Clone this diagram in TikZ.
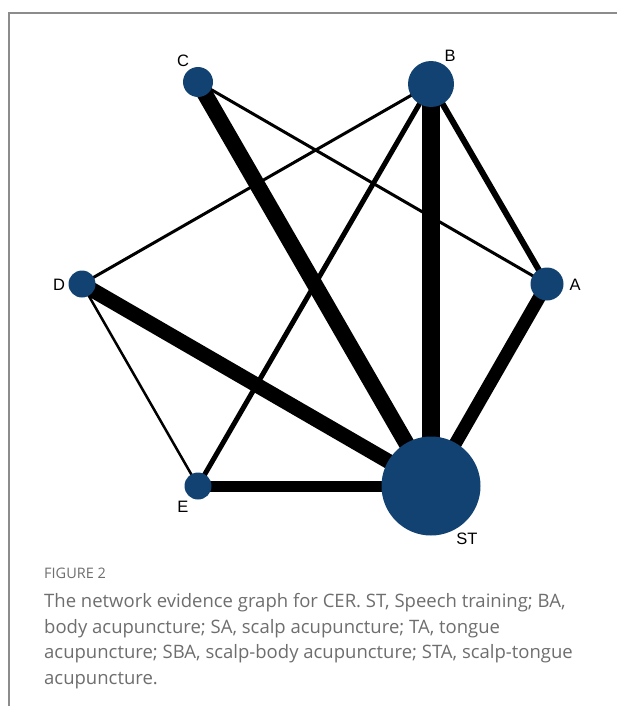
\documentclass[tikz,border=0pt]{standalone}
\usepackage{fontspec}
\setmainfont{Liberation Sans}
\newfontfamily\capfont{Open Sans}
\usetikzlibrary{positioning}
\pgfdeclarelayer{bg}
\pgfsetlayers{bg,main}
\definecolor{nodeblue}{RGB}{17,66,114}
\definecolor{framegray}{RGB}{140,140,140}
\definecolor{capgray}{RGB}{110,110,110}

\begin{document}
\begin{tikzpicture}[
		x=1pt, y=-1pt
		,n/.style={circle, fill=nodeblue, inner sep=0pt}
		,lab/.style={font=\fontsize{16.5}{16.5}\selectfont, inner sep=0pt}
		,capt/.style={font=\capfont\fontsize{18.5}{25.7}\selectfont, text=capgray, inner sep=0pt, anchor=north west, align=left}
	]
		\useasboundingbox (0,0) rectangle (617,706);
		\draw[framegray, line width=1.5pt] (9,706) -- (9,13) -- (617,13);

		\node[n, minimum size=30pt] (C) at (198,82) {};
		\node[n, minimum size=46pt] (B) at (431,84) {};
		\node[n, minimum size=27pt] (D) at (82,284) {};
		\node[n, minimum size=33pt] (A) at (547,284) {};
		\node[n, minimum size=27pt] (E) at (198,486) {};
		\node[n, minimum size=99pt] (ST) at (431,486) {};

		\node[lab] (lC) at (183,61) {C};
		\node[lab] (lB) at (450,56) {B};
		\node[lab] (lD) at (59,285) {D};
		\node[lab] (lA) at (575,285) {A};
		\node[lab] (lE) at (183,507) {E};
		\node[lab] (lST) at (467,539) {ST};

		\begin{pgfonlayer}{bg}
		\path[draw, line width=16pt] (C.center) -- (ST.center);
		\path[draw, line width=18pt] (B.center) -- (ST.center);
		\path[draw, line width=13pt] (A.center) -- (ST.center);
		\path[draw, line width=15pt] (D.center) -- (ST.center);
		\path[draw, line width=11pt] (E.center) -- (ST.center);
		\path[draw, line width=5pt] (B.center) -- (E.center);
		\path[draw, line width=6pt] (B.center) -- (A.center);
		\path[draw, line width=3pt] (B.center) -- (D.center);
		\path[draw, line width=3pt] (C.center) -- (A.center);
		\path[draw, line width=2.5pt] (D.center) -- (E.center);
		\end{pgfonlayer}

		\node[capt, font=\capfont\fontsize{14.5}{14.5}\selectfont] (fig) at (44,568) {FIGURE 2};
		\node[capt] (caption) at (44,593) {The network evidence graph for CER. ST, Speech training; BA,\\
			body acupuncture; SA, scalp acupuncture; TA, tongue\\
			acupuncture; SBA, scalp-body acupuncture; STA, scalp-tongue\\
			acupuncture.};
	\end{tikzpicture}
\end{document}
